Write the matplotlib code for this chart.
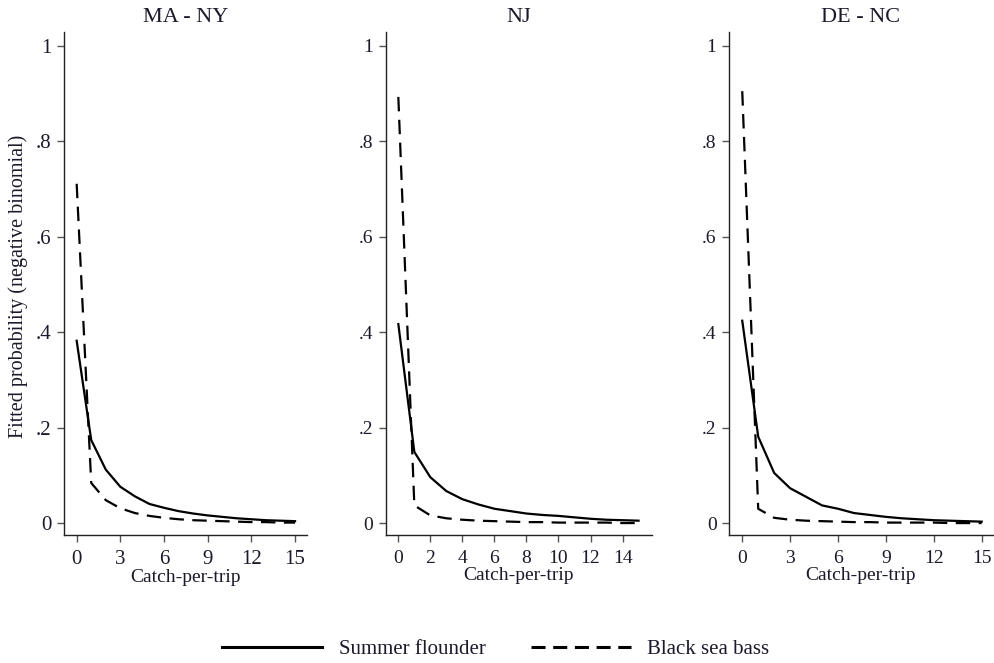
import matplotlib
matplotlib.use("Agg")
import matplotlib.pyplot as plt
from matplotlib.lines import Line2D

plt.rcParams['font.family'] = ['Liberation Serif', 'DejaVu Serif']

# catch-per-trip values
catch = list(range(16))

# fitted probabilities
ma_ny_flounder = [0.382, 0.174, 0.112, 0.076, 0.056, 0.040, 0.032, 0.025,
                  0.020, 0.016, 0.013, 0.010, 0.008, 0.006, 0.005, 0.004]
ma_ny_bass = [0.711, 0.084, 0.048, 0.031, 0.021, 0.015, 0.011, 0.008,
              0.006, 0.005, 0.004, 0.003, 0.002, 0.002, 0.001, 0.001]

nj_flounder = [0.417, 0.149, 0.096, 0.067, 0.050, 0.039, 0.030, 0.025,
               0.020, 0.017, 0.015, 0.012, 0.009, 0.007, 0.006, 0.005]
nj_bass = [0.893, 0.037, 0.016, 0.010, 0.007, 0.005, 0.004, 0.003,
           0.002, 0.002, 0.001, 0.001, 0.001, 0.001, 0.000, 0.000]

de_nc_flounder = [0.424, 0.181, 0.105, 0.073, 0.055, 0.037, 0.030, 0.021,
                  0.017, 0.013, 0.010, 0.008, 0.006, 0.005, 0.004, 0.003]
de_nc_bass = [0.905, 0.030, 0.011, 0.007, 0.005, 0.004, 0.003, 0.002,
              0.002, 0.001, 0.001, 0.001, 0.001, 0.000, 0.000, 0.000]

regions = ["MA - NY", "NJ", "DE - NC"]
flounder = [ma_ny_flounder, nj_flounder, de_nc_flounder]
bass = [ma_ny_bass, nj_bass, de_nc_bass]
xticks = [[0, 3, 6, 9, 12, 15], [0, 2, 4, 6, 8, 10, 12, 14], [0, 3, 6, 9, 12, 15]]
yticks = [0, 0.2, 0.4, 0.6, 0.8, 1.0]
ytick_labels = ["0", ".2", ".4", ".6", ".8", "1"]

W, H = 995, 663
fig = plt.figure(figsize=(W / 100, H / 100), dpi=100)

# axes boxes in pixels: left, right, xlim
boxes = [(64, 307, (-0.87, 15.82)),
         (386, 652, (-0.77, 15.84)),
         (729, 993, (-0.83, 15.71))]
top_px, bot_px = 32, 535
text_col = '#1a1a2a'

dash = (6.5, 3.8)
for i, (l, r, xl) in enumerate(boxes):
    ax = fig.add_axes([l / W, 1 - bot_px / H, (r - l) / W, (bot_px - top_px) / H])
    ax.plot(catch, flounder[i], color='black', lw=1.6, solid_joinstyle='round')
    ax.plot(catch, bass[i], color='black', lw=1.6, dashes=dash)
    ax.set_xlim(*xl)
    ax.set_ylim(-0.025, 1.029)
    ax.set_xticks(xticks[i])
    ax.set_yticks(yticks)
    ax.set_yticklabels(ytick_labels)
    for s in ['top', 'right']:
        ax.spines[s].set_visible(False)
    for s in ['left', 'bottom']:
        ax.spines[s].set_color('#222222')
        ax.spines[s].set_linewidth(1.0)
    fs = 15 if i == 0 else 14
    ax.tick_params(length=5, width=1, color='#555555', labelsize=fs,
                   labelcolor=text_col, pad=4)
    ax.tick_params(axis='x', pad=6)
    ax.set_title(regions[i], fontsize=16, color=text_col, pad=7)
    ax.set_xlabel("Catch-per-trip", fontsize=14, color=text_col, labelpad=0)

fig.text(18 / W, 1 - 286 / H, "Fitted probability (negative binomial)",
         rotation=90, ha='center', va='center', fontsize=14.5, color=text_col)

handles = [Line2D([], [], color='black', lw=2.2),
           Line2D([], [], color='black', lw=2.2, dashes=(4.6, 2.5))]
fig.legend(handles, ["Summer flounder", "Black sea bass"], loc='center',
           bbox_to_anchor=(0.4985, 1 - 649 / H), ncol=2, frameon=False,
           fontsize=15, handlelength=4.8, handletextpad=0.8,
           columnspacing=2.15, labelcolor=text_col,
           borderpad=0, borderaxespad=0)

fig.savefig("out.png", dpi=100)
